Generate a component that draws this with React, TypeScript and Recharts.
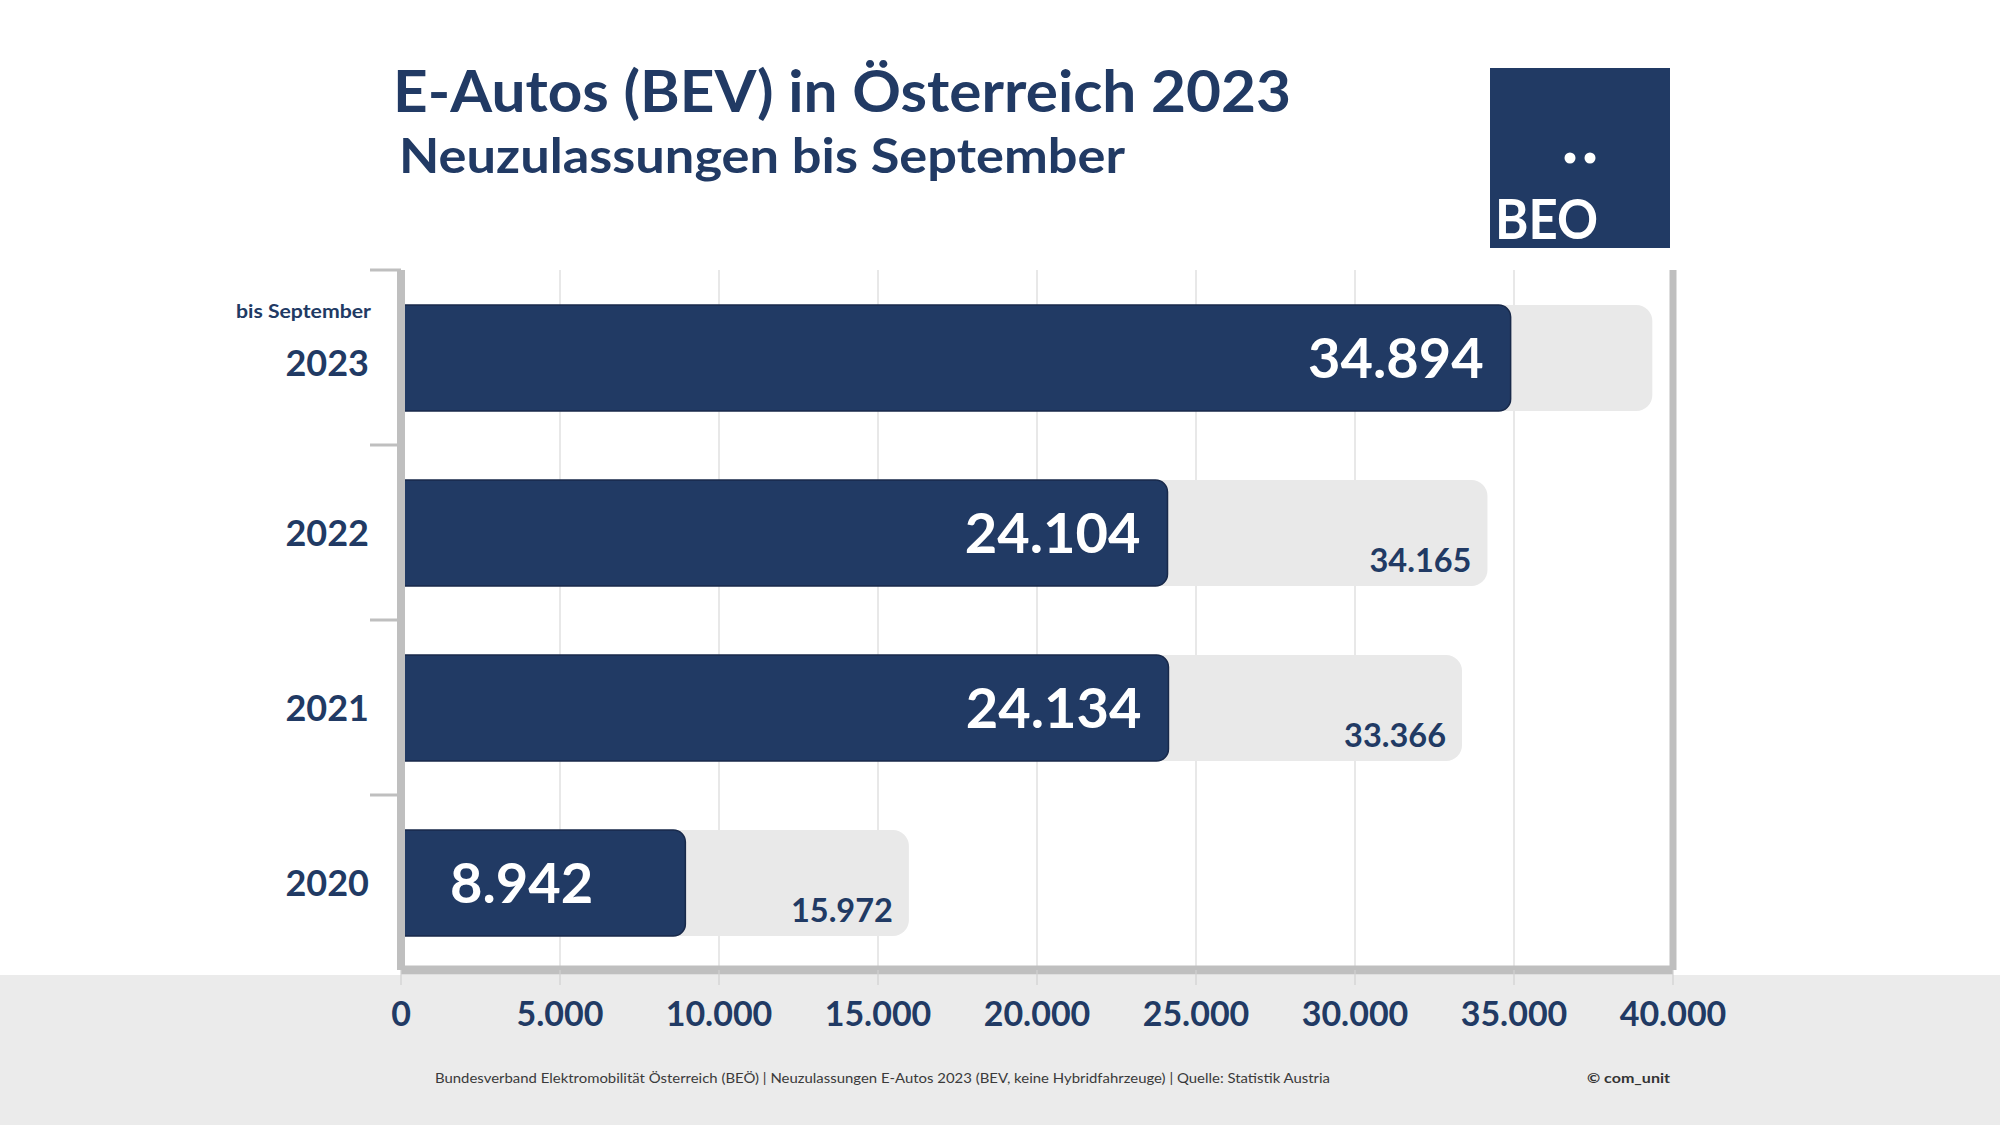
import { Bar, BarChart, CartesianGrid, LabelList, ReferenceLine, XAxis, YAxis } from 'recharts'

// Neuzulassungen E-Autos (BEV) in Österreich, jeweils Jan–Sep vs. Gesamtjahr
const years = ['2023', '2022', '2021', '2020']
const ytdValues = [34894, 24104, 24134, 8942]
const fullYearValues = [39350, 34165, 33366, 15972]
const fullYearLabelled = [false, true, true, true]
const xTicks = [0, 5000, 10000, 15000, 20000, 25000, 30000, 35000, 40000]

const NAVY = '#213a64'
const AXIS_GRAY = '#bfbfbf'
const FONT = "Lato, 'Open Sans', sans-serif"

const W = 2000
const H = 1125
const MARGIN = { top: 270, right: 327, left: 301, bottom: 95 }
const Y_AXIS_W = 100
const X_AXIS_H = 60
const PLOT_H = H - MARGIN.top - MARGIN.bottom - X_AXIS_H
const BAR_SIZE = 106

const data = years.map((year, i) => ({
  year,
  ytd: ytdValues[i],
  full: fullYearValues[i],
}))

const fmt = (v: number) => String(v).replace(/\B(?=(\d{3})+(?!\d))/g, '.')

function YearTick(props: any) {
  const { x, y, payload } = props
  const band = PLOT_H / years.length
  const top = y - band / 2
  const isFirst = payload.value === '2023'
  return (
    <g>
      <line x1={x - 31} x2={x} y1={top} y2={top} stroke={AXIS_GRAY} strokeWidth={3} />
      {isFirst && (
        <text
          x={x - 30}
          y={y - 40}
          textAnchor="end"
          fontFamily={FONT}
          fontWeight={700}
          fontSize={18.5}
          fill={NAVY}
          textLength={135}
          lengthAdjust="spacingAndGlyphs"
        >
          bis September
        </text>
      )}
      <text
        x={x - 32}
        y={y + (isFirst ? 18 : 13)}
        textAnchor="end"
        fontFamily={FONT}
        fontWeight={700}
        fontSize={36}
        fill={NAVY}
      >
        {payload.value}
      </text>
    </g>
  )
}

function ValueTick(props: any) {
  const { x, y, payload } = props
  return (
    <text x={x} y={y} dy={41} textAnchor="middle" fontFamily={FONT} fontWeight={700} fontSize={34} fill={NAVY}>
      {fmt(payload.value)}
    </text>
  )
}

function YtdLabel(props: any) {
  const x = Number(props.x)
  const y = Number(props.y)
  const width = Number(props.width)
  const height = Number(props.height)
  const short = width < 400
  return (
    <text
      x={short ? x + 49 : x + width - 27}
      y={y + height / 2 + 20}
      textAnchor={short ? 'start' : 'end'}
      fontFamily={FONT}
      fontWeight={700}
      fontSize={56}
      fill="#ffffff"
    >
      {fmt(Number(props.value))}
    </text>
  )
}

function FullLabel(props: any) {
  if (!fullYearLabelled[props.index]) return null
  const x = Number(props.x)
  const y = Number(props.y)
  const width = Number(props.width)
  const height = Number(props.height)
  return (
    <text x={x + width - 16} y={y + height - 14} textAnchor="end" fontFamily={FONT} fontWeight={700} fontSize={32.5} fill={NAVY}>
      {fmt(Number(props.value))}
    </text>
  )
}

export default function App() {
  return (
    <div style={{ position: 'absolute', left: 0, top: 0, width: W, height: H, background: '#ffffff', overflow: 'hidden' }}>
      {/* grauer Sockel hinter der Achsenbeschriftung */}
      <div style={{ position: 'absolute', left: 0, top: 975, width: W, height: H - 975, background: '#ebebeb' }} />

      <div style={{ position: 'absolute', left: 0, top: 0 }}>
        <BarChart width={W} height={H} data={data} layout="vertical" margin={MARGIN} barGap={-BAR_SIZE}>
          <CartesianGrid horizontal={false} stroke="#d9d9d9" strokeWidth={1.2} />
          <XAxis
            type="number"
            domain={[0, 40000]}
            ticks={xTicks}
            height={X_AXIS_H}
            axisLine={{ stroke: AXIS_GRAY, strokeWidth: 9 }}
            tickLine={{ stroke: '#d0d0d0', strokeWidth: 1.2 }}
            tickSize={15}
            tickMargin={0}
            tick={<ValueTick />}
            interval={0}
          />
          <YAxis
            type="category"
            dataKey="year"
            width={Y_AXIS_W}
            axisLine={{ stroke: AXIS_GRAY, strokeWidth: 8 }}
            tickLine={false}
            tickSize={0}
            tickMargin={0}
            tick={<YearTick />}
            interval={0}
          />
          <ReferenceLine x={40000} stroke={AXIS_GRAY} strokeWidth={7} />
          <Bar dataKey="full" fill="#e9e9e9" radius={[0, 16, 16, 0]} barSize={BAR_SIZE} isAnimationActive={false}>
            <LabelList dataKey="full" content={FullLabel} />
          </Bar>
          <Bar
            dataKey="ytd"
            fill={NAVY}
            stroke="#18294a"
            strokeWidth={1.5}
            radius={[0, 12, 12, 0]}
            barSize={BAR_SIZE}
            isAnimationActive={false}
          >
            <LabelList dataKey="ytd" content={YtdLabel} />
          </Bar>
        </BarChart>
      </div>

      {/* Titel, Logo, Fußzeile */}
      <svg width={W} height={H} style={{ position: 'absolute', left: 0, top: 0, pointerEvents: 'none' }}>
        <text x={393} y={112} fontFamily={FONT} fontWeight={700} fontSize={58} fill={NAVY} textLength={898} lengthAdjust="spacingAndGlyphs">
          E-Autos (BEV) in Österreich 2023
        </text>
        <text x={399} y={173} fontFamily={FONT} fontWeight={700} fontSize={47.5} fill={NAVY} textLength={726} lengthAdjust="spacingAndGlyphs">
          Neuzulassungen bis September
        </text>

        <rect x={1490} y={68} width={180} height={180} fill={NAVY} />
        <circle cx={1570} cy={158} r={5.5} fill="#ffffff" />
        <circle cx={1590} cy={158} r={5.5} fill="#ffffff" />
        <text x={1495} y={239} fontFamily={FONT} fontWeight={700} fontSize={56} fill="#ffffff" textLength={103} lengthAdjust="spacingAndGlyphs">
          BEO
        </text>

        <text x={435} y={1083} fontFamily={FONT} fontSize={13} fill="#3a3a3a" textLength={895} lengthAdjust="spacingAndGlyphs">
          Bundesverband Elektromobilität Österreich (BEÖ) | Neuzulassungen E-Autos 2023 (BEV, keine Hybridfahrzeuge) | Quelle: Statistik Austria
        </text>
        <text x={1587} y={1083} fontFamily={FONT} fontWeight={700} fontSize={13} fill="#333333" textLength={83} lengthAdjust="spacingAndGlyphs">
          © com_unit
        </text>
      </svg>
    </div>
  )
}
